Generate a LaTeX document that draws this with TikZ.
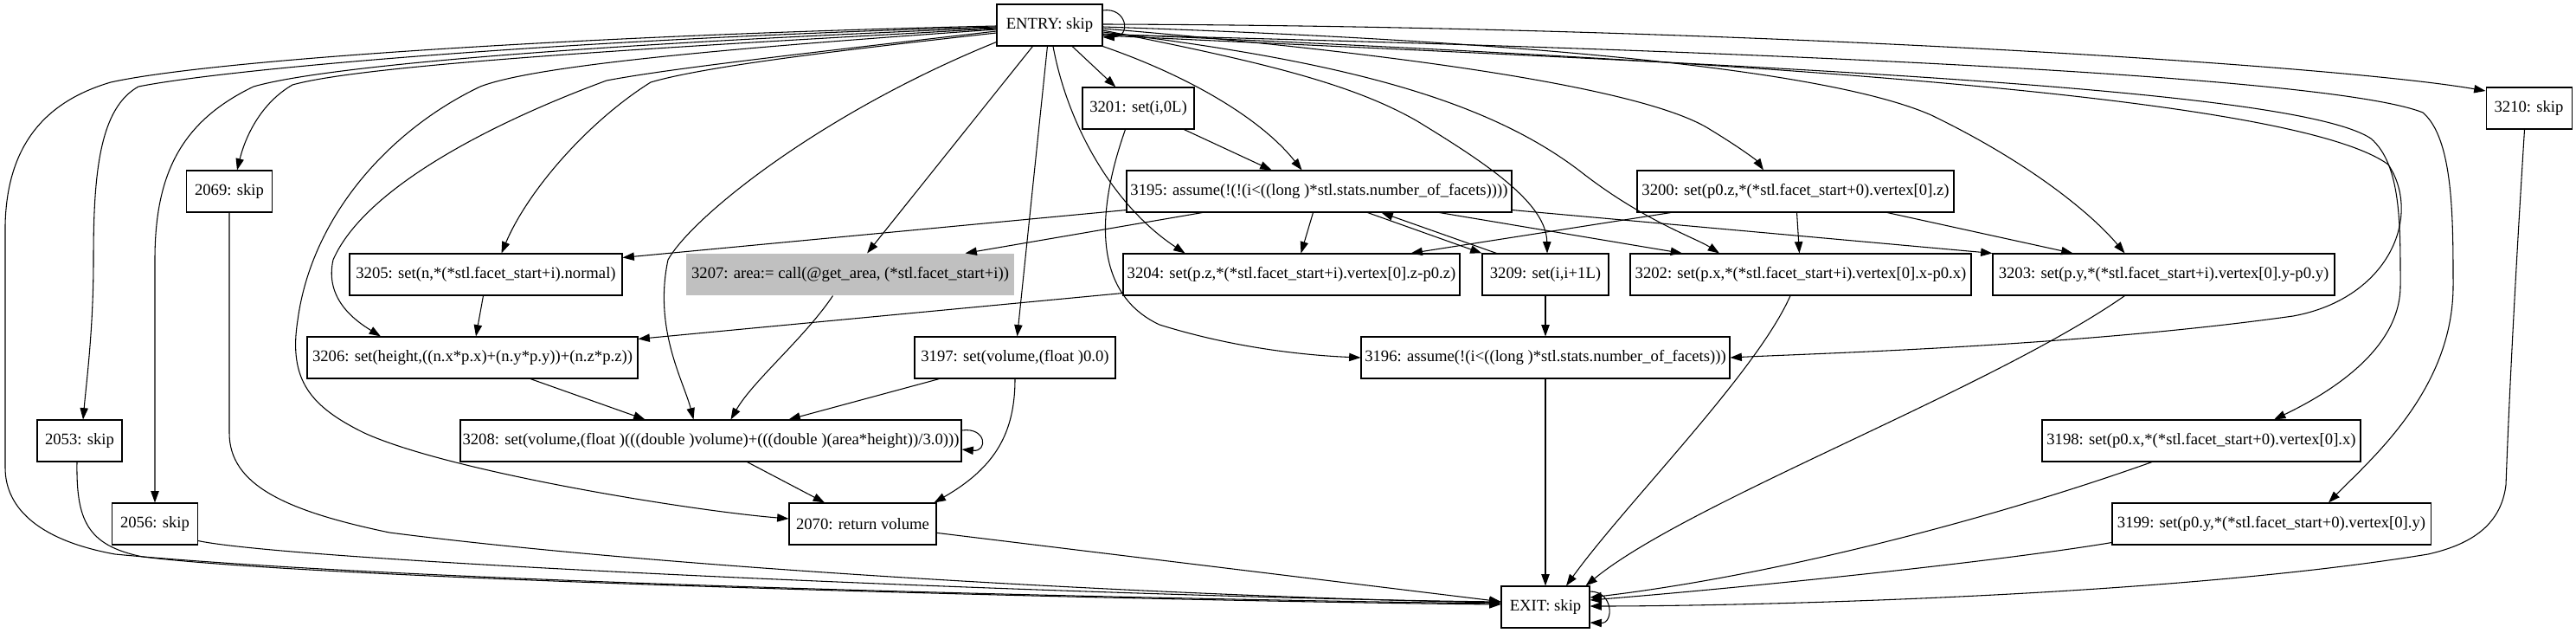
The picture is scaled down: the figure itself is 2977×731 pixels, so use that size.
\documentclass[tikz,border=0pt]{standalone}
\usepackage{fontspec}
\setmainfont{Liberation Serif}
\usetikzlibrary{arrows.meta,calc}
\definecolor{nodegray}{RGB}{192,192,192}
\begin{document}
\begin{tikzpicture}[x=0.75pt,y=-0.75pt,
  box/.style={draw,line width=0.8pt,rectangle,minimum height=36pt,inner sep=0pt,font=\fontsize{14}{16}\selectfont},
  gbox/.style={box,draw=none,fill=nodegray},
  e/.style={line width=0.8pt,-{Triangle[length=10pt,width=7pt]}}]
\useasboundingbox (0,0) rectangle (2977,731);

\node[box,minimum width=91.5pt] (entry) at (1213,29) {ENTRY: skip};
\node[box,minimum width=96.75pt] (n3201) at (1315.5,125) {3201: set(i,0L)};
\node[box,minimum width=74.25pt] (n3210) at (2922.5,125) {3210: skip};
\node[box,minimum width=333.75pt] (n3195) at (1524.5,221) {3195: assume(!(!(i<((long )*stl.stats.number\_of\_facets))))};
\node[box,minimum width=274.5pt] (n3200) at (2075,221) {3200: set(p0.z,*(*stl.facet\_start+0).vertex[0].z)};
\node[box,minimum width=74.25pt] (n2069) at (265,221) {2069: skip};
\node[box,minimum width=236.25pt] (n3205) at (561.5,317) {3205: set(n,*(*stl.facet\_start+i).normal)};
\node[gbox,minimum width=284.25pt] (n3207) at (982.5,317) {3207: area:= call(@get\_area, (*stl.facet\_start+i))};
\node[box,minimum width=291.75pt] (n3204) at (1492.5,317) {3204: set(p.z,*(*stl.facet\_start+i).vertex[0].z-p0.z)};
\node[box,minimum width=109.5pt] (n3209) at (1786,317) {3209: set(i,i+1L)};
\node[box,minimum width=295.5pt] (n3202) at (2081,317) {3202: set(p.x,*(*stl.facet\_start+i).vertex[0].x-p0.x)};
\node[box,minimum width=296.25pt] (n3203) at (2500.5,317) {3203: set(p.y,*(*stl.facet\_start+i).vertex[0].y-p0.y)};
\node[box,minimum width=286.5pt] (n3206) at (546,413) {3206: set(height,((n.x*p.x)+(n.y*p.y))+(n.z*p.z))};
\node[box,minimum width=174pt] (n3197) at (1173,413) {3197: set(volume,(float )0.0)};
\node[box,minimum width=319.5pt] (n3196) at (1786,413) {3196: assume(!(i<((long )*stl.stats.number\_of\_facets)))};
\node[box,minimum width=73.5pt] (n2053) at (92,509) {2053: skip};
\node[box,minimum width=434.25pt] (n3208) at (821.5,509) {3208: set(volume,(float )(((double )volume)+(((double )(area*height))/3.0)))};
\node[box,minimum width=276pt] (n3198) at (2544,509) {3198: set(p0.x,*(*stl.facet\_start+0).vertex[0].x)};
\node[box,minimum width=74.25pt] (n2056) at (179,605) {2056: skip};
\node[box,minimum width=127.5pt] (n2070) at (997,605) {2070: return volume};
\node[box,minimum width=276pt] (n3199) at (2625,605) {3199: set(p0.y,*(*stl.facet\_start+0).vertex[0].y)};
\node[box,minimum width=76.5pt] (exit) at (1786,701) {EXIT: skip};

% ENTRY left side
\draw[e] ($(entry.west)+(0,1)$) .. controls (700,40) and (250,68) .. (128,95) .. controls (60,115) and (8,160) .. (6,260) -- (6,540) .. controls (6,590) and (50,625) .. (133,640) .. controls (500,675) and (1400,693) .. ($(exit.west)+(0,-4)$);
\draw[e] ($(entry.west)+(0,2)$) .. controls (650,45) and (260,80) .. (160,100) .. controls (115,125) and (108,200) .. (108,300) .. controls (108,380) and (100,440) .. ($(n2053.north)+(4,0)$);
\draw[e] ($(entry.west)+(0,3)$) .. controls (700,50) and (380,75) .. (293,100) .. controls (210,140) and (179,200) .. (179,300) -- (n2056.north);
\draw[e] ($(entry.west)+(0,4)$) .. controls (750,55) and (420,75) .. (338,98) .. controls (300,120) and (283,160) .. ($(n2069.north)+(9,0)$);
\draw[e] ($(entry.west)+(0,5)$) .. controls (850,55) and (620,75) .. (555,100) .. controls (450,150) and (360,250) .. (344,370) .. controls (333,440) and (360,470) .. (421,500) .. controls (520,545) and (800,590) .. ($(n2070.west)+(0,-6)$);
\draw[e] ($(entry.west)+(0,7)$) .. controls (900,65) and (770,80) .. (701,93) .. controls (560,145) and (420,220) .. (385,300) .. controls (375,345) and (410,370) .. ($(n3206.north)+(-106,0)$);
\draw[e] ($(entry.west)+(0,9)$) .. controls (1000,55) and (820,75) .. (752,95) .. controls (680,140) and (610,220) .. ($(n3205.north)+(18,0)$);
\draw[e] ($(entry.south west)+(0,-5)$) .. controls (950,130) and (800,250) .. (772,300) .. controls (755,380) and (790,440) .. ($(n3208.north)+(-20,0)$);
% ENTRY bottom
\draw[e] (entry) -- (n3207);
\draw[e] (entry) -- (n3197);
\draw[e] ($(entry.south)+(4,0)$) .. controls (1235,150) and (1290,240) .. ($(n3204.north)+(-123,0)$);
\draw[e] (entry) -- (n3201);
\draw[e] (entry.south east) .. controls (1380,90) and (1460,140) .. ($(n3195.north)+(-20,0)$);
\draw[e] ($(entry.east)+(0,-17)$) .. controls (1302,8) and (1308,42) .. ($(entry.east)+(0,14)$);
% ENTRY right side
\draw[e] ($(entry.east)+(0,6)$) .. controls (1450,70) and (1560,95) .. (1638,140) .. controls (1720,190) and (1787,235) .. ($(n3209.north)+(2,0)$);
\draw[e] ($(entry.east)+(0,8)$) .. controls (1550,70) and (1720,115) .. (1829,200) .. controls (1900,255) and (1960,275) .. ($(n3202.north)+(-94,0)$);
\draw[e] ($(entry.east)+(0,4)$) .. controls (1600,60) and (1900,100) .. (1977,150) .. controls (2010,170) and (2030,185) .. ($(n3200.north)+(-37,0)$);
\draw[e] ($(entry.east)+(0,2)$) .. controls (1700,45) and (2100,75) .. (2232,133) .. controls (2350,190) and (2420,250) .. ($(n3203.north)+(-45,0)$);
\draw[e] ($(entry.east)+(0,-1)$) .. controls (2000,30) and (2700,75) .. ($(n3210.west)+(0,-20)$);
\draw[e] ($(entry.east)+(0,10)$) .. controls (2000,70) and (2650,110) .. (2760,190) .. controls (2800,250) and (2760,345) .. (2650,365) .. controls (2400,400) and (2100,408) .. (n3196.east);
\draw[e] ($(entry.east)+(0,12)$) .. controls (2000,75) and (2650,100) .. (2740,160) .. controls (2775,190) and (2774,260) .. (2774,330) .. controls (2774,400) and (2700,450) .. ($(n3198.north)+(84,0)$);
\draw[e] ($(entry.east)+(0,11)$) .. controls (2100,60) and (2700,90) .. (2800,130) .. controls (2835,160) and (2835,250) .. (2835,330) .. controls (2835,450) and (2740,530) .. ($(n3199.north)+(66,0)$);
% into EXIT
\draw[e] ($(n3210.south)+(-5,0)$) .. controls (2908,300) and (2900,450) .. (2896,560) .. controls (2890,610) and (2850,630) .. (2806,640) .. controls (2500,690) and (2000,700) .. ($(exit.east)+(0,-1)$);
\draw[e] ($(n3198.south)+(-57,0)$) .. controls (2300,600) and (2050,665) .. ($(exit.east)+(0,-11)$);
\draw[e] ($(n3199.south west)+(0,-3)$) .. controls (2300,650) and (2000,680) .. ($(exit.east)+(0,-8)$);
\draw[e] ($(n3202.south)+(-12,0)$) .. controls (2030,430) and (1880,580) .. ($(exit.north)+(24,0)$);
\draw[e] ($(n3203.south)+(-45,0)$) .. controls (2300,450) and (1950,580) .. ($(exit.north east)+(-5,0)$);
\draw[e] (n3196) -- (exit);
\draw[e] (n2070) -- (exit);
\draw[e] ($(n2056.south east)+(0,-5)$) .. controls (350,650) and (1300,690) .. ($(exit.west)+(0,-6)$);
\draw[e] ($(n2053.south)+(-3,0)$) .. controls (88,600) and (100,630) .. (165,643) .. controls (400,672) and (1400,695) .. ($(exit.west)+(0,-3)$);
\draw[e] (n2069.south) -- (265,500) .. controls (265,560) and (330,590) .. (450,615) .. controls (800,660) and (1400,690) .. ($(exit.west)+(0,-5)$);
\draw[e] ($(exit.east)+(0,-18)$) .. controls (1865,683) and (1865,720) .. ($(exit.east)+(0,18)$);
% middle
\draw[e] (n3201) -- ($(n3195.north)+(-55,0)$);
\draw[e] ($(n3201.south)+(-15,0)$) .. controls (1265,250) and (1265,340) .. (1340,375) .. controls (1420,400) and (1500,410) .. (n3196.west);
\draw[e] ($(n3195.south west)+(0,-3)$) -- ($(n3205.north east)+(0,5)$);
\draw[e] ($(n3195.south)+(-135,0)$) -- ($(n3207.north east)+(-57,0)$);
\draw[e] ($(n3195.south)+(-7,0)$) -- ($(n3204.north)+(11,0)$);
\draw[e] ($(n3195.south)+(56,0)$) -- (n3209.north west);
\draw[e] ($(n3209.north west)+(17,0)$) -- ($(n3195.south)+(72,0)$);
\draw[e] ($(n3195.south)+(139,0)$) -- ($(n3202.north)+(-137,0)$);
\draw[e] ($(n3195.south east)+(0,-3)$) -- (n3203.north west);
\draw[e] ($(n3200.south)+(-144,0)$) -- ($(n3204.north)+(138,0)$);
\draw[e] (n3200) -- (n3202);
\draw[e] ($(n3200.south)+(106,0)$) -- ($(n3203.north)+(-105,0)$);
\draw[e] (n3209) -- (n3196);
\draw[e] ($(n3204.south west)+(0,-3)$) -- ($(n3206.north east)+(0,3)$);
\draw[e] ($(n3205.south)+(-3,0)$) -- ($(n3206.north)+(4,0)$);
\draw[e] ($(n3206.south)+(67,0)$) -- ($(n3208.north)+(-76,0)$);
\draw[e] ($(n3207.south)+(-20,0)$) .. controls (930,390) and (870,440) .. ($(n3208.north)+(23,0)$);
\draw[e] ($(n3197.south west)+(29,0)$) -- ($(n3208.north)+(90,0)$);
\draw[e] (n3197.south) .. controls (1173,500) and (1150,540) .. ($(n2070.north east)+(-3,0)$);
\draw[e] ($(n3208.east)+(0,-12)$) .. controls (1140,493) and (1142,522) .. ($(n3208.east)+(0,10)$);
\draw[e] ($(n3208.south)+(42,0)$) -- ($(n2070.north)+(-44,0)$);
\end{tikzpicture}
\end{document}
